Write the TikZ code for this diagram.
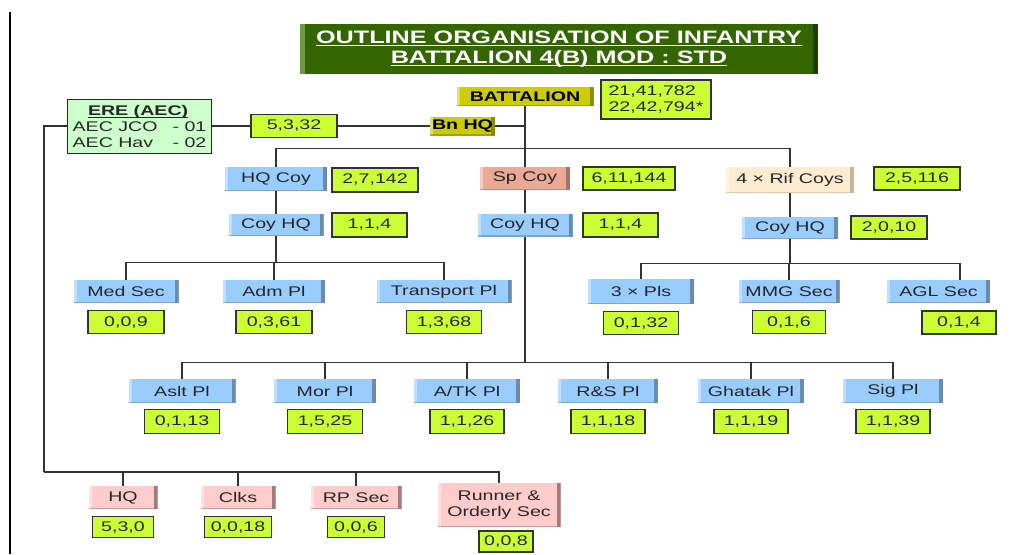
\documentclass[tikz,border=0pt]{standalone}
\usepackage{fontspec}
\setmainfont{Liberation Sans}[FakeStretch=1.4]
\usetikzlibrary{positioning}
\definecolor{lineC}{HTML}{333333}
\definecolor{blueA}{HTML}{99CCFF}
\definecolor{blueD}{HTML}{6A8CB0}
\definecolor{spA}{HTML}{EBAA96}
\definecolor{spD}{HTML}{A07868}
\definecolor{rifA}{HTML}{FFEBD0}
\definecolor{rifD}{HTML}{C8B496}
\definecolor{pinkA}{HTML}{FFCCCC}
\definecolor{pinkD}{HTML}{A57A7A}
\definecolor{limeC}{HTML}{CCFF33}
\definecolor{oliveC}{HTML}{CCCC00}
\definecolor{oliveD}{HTML}{8A8A00}
\definecolor{ereA}{HTML}{CCFFCC}
\definecolor{titleG}{HTML}{336600}
\definecolor{titleL}{HTML}{6E9A45}
\definecolor{titleD}{HTML}{1F3D00}
\newcommand{\unitfont}{\fontsize{14}{16}\selectfont}
\newcommand{\headfont}{\fontsize{18}{20}\selectfont\bfseries}
\newcommand{\undl}[1]{\setbox0\hbox{#1}\rlap{\rule[-3pt]{\wd0}{1.4pt}}\box0}
\tikzset{
  conn/.style={draw=lineC, line width=1.3pt},
  bevel/.style 2 args={fill=#1, path picture={
      \fill[#2] ([xshift=-4pt]path picture bounding box.north east) rectangle (path picture bounding box.south east);
      \fill[white, opacity=.4] (path picture bounding box.north west) rectangle ([xshift=3pt]path picture bounding box.south west);
      \fill[#2, opacity=.6] ([yshift=1.5pt]path picture bounding box.south west) rectangle (path picture bounding box.south east);}},
  unit/.style={inner sep=0pt, minimum height=23pt, font=\unitfont, text=black!85},
  bluebox/.style={unit, bevel={blueA}{blueD}},
  spbox/.style={unit, bevel={spA}{spD}},
  rifbox/.style={unit, bevel={rifA}{rifD}},
  pinkbox/.style={unit, bevel={pinkA}{pinkD}},
  olivebox/.style={unit, bevel={oliveC}{oliveD}, minimum height=19pt, font=\unitfont\bfseries, text=black},
  numbox/.style={draw=black!80, line width=1.2pt, fill=limeC, minimum width=75pt, minimum height=23pt,
    inner sep=0pt, font=\unitfont, text=black!85},
  erebox/.style={draw=black!85, line width=1pt, fill=ereA, align=left, inner xsep=5pt, inner ysep=2pt,
    minimum width=143pt, minimum height=54pt, font=\unitfont, text=black!85},
  titlebox/.style={fill=titleG, text=white, align=center, minimum width=518pt, minimum height=50pt,
    font=\headfont, path picture={
      \fill[titleL] (path picture bounding box.north west) rectangle ([xshift=5pt]path picture bounding box.south west);
      \fill[titleD] ([xshift=-5pt]path picture bounding box.north east) rectangle (path picture bounding box.south east);}}
}
\begin{document}
\begin{tikzpicture}[x=1pt, y=-1pt]
\useasboundingbox (0,0) rectangle (1014,554);
\draw[line width=1.3pt] (10,12) -- (10,554);

% heading
\node[titlebox] (title) at (559,49) {\undl{OUTLINE ORGANISATION OF INFANTRY}\\\undl{BATTALION 4(B) MOD : STD}};

% battalion and bn hq
\node[olivebox, minimum width=137pt] (bn) at (525,96.5) {BATTALION};
\node[numbox, minimum width=110pt, minimum height=39pt, align=left] (bnstr) at (656,99.5) {21,41,782\\22,42,794*};
\node[olivebox, minimum width=65pt] (bnhq) at (462.5,126) {Bn HQ};
\node[numbox, minimum width=86pt] (n5332) at (294,126) {5,3,32};
\node[erebox] (ere) at (139.5,126) {\makebox[131pt]{\bfseries\undl{ERE (AEC)}}\\\makebox[100pt][l]{AEC JCO}- 01\\\makebox[100pt][l]{AEC Hav}- 02};

% companies
\node[bluebox, minimum width=102pt, minimum height=24pt] (hqcoy) at (276,179) {HQ Coy};
\node[numbox, minimum width=86pt, minimum height=24pt] (n27142) at (375,180) {2,7,142};
\node[spbox, minimum width=90pt] (spcoy) at (525,178.5) {Sp Coy};
\node[numbox, minimum width=92pt] (n611144) at (629,178.5) {6,11,144};
\node[rifbox, minimum width=128pt, minimum height=26pt] (rifcoys) at (790,180) {4 × Rif Coys};
\node[numbox, minimum width=86pt] (n25116) at (917,178.5) {2,5,116};

% coy hq
\node[bluebox, minimum width=95pt, minimum height=22pt] (coyhqA) at (276,225) {Coy HQ};
\node[numbox, minimum height=24pt] (n114A) at (369.5,225) {1,1,4};
\node[bluebox, minimum width=95pt] (coyhqB) at (525,225) {Coy HQ};
\node[numbox, minimum height=24pt] (n114B) at (620.5,225) {1,1,4};
\node[bluebox, minimum width=96pt, minimum height=22pt] (coyhqC) at (790,228) {Coy HQ};
\node[numbox, minimum width=76pt] (n2010) at (889,227.5) {2,0,10};

% hq coy and rif coy sub units
\node[bluebox, minimum width=105pt] (medsec) at (126,291.5) {Med Sec};
\node[bluebox, minimum width=102pt] (adm) at (274,291.5) {Adm Pl};
\node[bluebox, minimum width=135pt] (transport) at (444,291.5) {Transport Pl};
\node[bluebox, minimum width=106pt, minimum height=25pt] (pls) at (641,291.5) {3 × Pls};
\node[bluebox, minimum width=101pt] (mmg) at (789,291.5) {MMG Sec};
\node[bluebox, minimum width=103pt] (agl) at (938.5,291.5) {AGL Sec};
\node[numbox, minimum width=76pt, below=7pt of medsec] (n009) {0,0,9};
\node[numbox, minimum width=76pt, below=7pt of adm] (n0361) {0,3,61};
\node[numbox, below=7pt of transport] (n1368) {1,3,68};
\node[numbox, below=7pt of pls] (n0132) {0,1,32};
\node[numbox, minimum width=73pt, below=7pt of mmg] (n016) {0,1,6};
\node[numbox, minimum width=74pt] (n014) at (959,322.5) {0,1,4};

% sp coy platoons
\node[bluebox, minimum width=107pt, minimum height=24pt] (aslt) at (182,391) {Aslt Pl};
\node[bluebox, minimum width=102pt, minimum height=24pt] (mor) at (325,391) {Mor Pl};
\node[bluebox, minimum width=106pt, minimum height=24pt] (atk) at (467,391) {A/TK Pl};
\node[bluebox, minimum width=100pt, minimum height=24pt] (rs) at (608,391) {R\&S Pl};
\node[bluebox, minimum width=106pt, minimum height=24pt] (ghatak) at (751,391) {Ghatak Pl};
\node[bluebox, minimum width=100pt, minimum height=24pt] (sig) at (893,391) {Sig Pl};
\node[numbox, minimum height=24pt, below=6pt of aslt] (n0113) {0,1,13};
\node[numbox, minimum height=24pt, below=6pt of mor] (n1525) {1,5,25};
\node[numbox, minimum width=74pt, minimum height=24pt, below=6pt of atk] (n1126) {1,1,26};
\node[numbox, minimum width=74pt, minimum height=24pt, below=6pt of rs] (n1118) {1,1,18};
\node[numbox, minimum width=74pt, minimum height=24pt, below=6pt of ghatak] (n1119) {1,1,19};
\node[numbox, minimum width=74pt, minimum height=24pt, below=6pt of sig] (n1139) {1,1,39};

% bn hq sub units
\node[pinkbox, minimum width=69pt] (hq) at (123,497.5) {HQ};
\node[pinkbox, minimum width=75pt] (clks) at (238,497.5) {Clks};
\node[pinkbox, minimum width=91pt] (rpsec) at (356,497.5) {RP Sec};
\node[pinkbox, minimum width=123pt, minimum height=44pt, align=center] (runner) at (499,505) {Runner \&\\Orderly Sec};
\node[numbox, minimum width=61pt, minimum height=21pt, below=7pt of hq] (n530) {5,3,0};
\node[numbox, minimum width=67pt, minimum height=21pt, below=7pt of clks] (n0018) {0,0,18};
\node[numbox, minimum width=57pt, minimum height=21pt, below=7pt of rpsec] (n006) {0,0,6};
\node[numbox, minimum width=54pt, minimum height=21pt] (n008) at (506,541.5) {0,0,8};

% connectors
\draw[conn] (ere.east) -- (n5332.west);
\draw[conn] (n5332.east) -- (bnhq.west);
\draw[conn] (bnhq.east) -- (bnhq.east -| bn.south);
\draw[conn] (bn.south) -- (spcoy.north);
\draw[conn] (hqcoy.north) -- ++(0,-18) -| (rifcoys.north);
\draw[conn] (hqcoy.south) -- (coyhqA.north);
\draw[conn] (coyhqA.south) -- ++(0,26) coordinate (jA);
\foreach \n in {medsec,adm,transport}
  \draw[conn] (\n.north) |- (jA);
\draw[conn] (spcoy.south) -- (coyhqB.north);
\draw[conn] (coyhqB.south) -- ++(0,126) coordinate (jB);
\foreach \n in {aslt,mor,atk,rs,ghatak,sig}
  \draw[conn] (\n.north) |- (jB);
\draw[conn] (rifcoys.south) -- (coyhqC.north);
\draw[conn] (coyhqC.south) -- ++(0,24) coordinate (jC);
\foreach \n in {pls,mmg}
  \draw[conn] (\n.north) |- (jC);
\draw[conn] ([xshift=21.5pt]agl.north) |- (jC);
\draw[conn] (ere.west) -| ++(-23,346) coordinate (jD);
\foreach \n in {hq,clks,rpsec,runner}
  \draw[conn] (\n.north) |- (jD);
\end{tikzpicture}
\end{document}
